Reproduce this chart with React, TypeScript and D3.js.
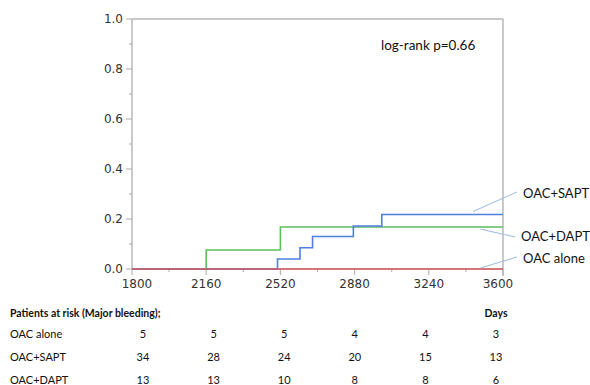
import React from "react";
import * as d3 from "d3";

// Cumulative incidence of major bleeding
const xTicks = [1800, 2160, 2520, 2880, 3240, 3600];
const yTicks = [0, 0.2, 0.4, 0.6, 0.8, 1.0];

const saptDays = [1800, 2506, 2615, 2676, 2874, 3012, 3600];
const saptRisk = [0, 0.04, 0.085, 0.13, 0.172, 0.218, 0.218];
const daptDays = [1800, 2160, 2520, 3600];
const daptRisk = [0, 0.076, 0.168, 0.168];
const aloneDays = [1800, 3600];
const aloneRisk = [0, 0];

const groups = ["OAC alone", "OAC+SAPT", "OAC+DAPT"];
const atRiskAlone = [5, 5, 5, 4, 4, 3];
const atRiskSapt = [34, 28, 24, 20, 15, 13];
const atRiskDapt = [13, 13, 10, 8, 8, 6];

const pValue = "log-rank p=0.66";

const W = 590;
const H = 385;
const margin = { left: 132, right: 87, top: 19, bottom: 116 };
const grey = "#b7b7b7";
const tickFont = "'DejaVu Sans', Verdana, sans-serif";
const textFont = "Lato, 'Open Sans', sans-serif";

export default function App() {
  const x = d3.scaleLinear().domain([1800, 3600]).range([margin.left, W - margin.right]);
  const y = d3.scaleLinear().domain([0, 1]).range([H - margin.bottom, margin.top]);

  const step = d3
    .line<[number, number]>()
    .x((d) => x(d[0]))
    .y((d) => y(d[1]))
    .curve(d3.curveStepAfter);

  // red drawn last so it stays visible along the baseline
  const curves = [
    { name: "OAC+DAPT", days: daptDays, risk: daptRisk, color: "#5cbf5e" },
    { name: "OAC+SAPT", days: saptDays, risk: saptRisk, color: "#4f7fe0" },
    { name: "OAC alone", days: aloneDays, risk: aloneRisk, color: "#d9575a" },
  ];

  // label placement on the right, leaders pointing at the curve ends
  const labels = [
    { name: "OAC+SAPT", from: [x(3455), y(0.218) - 3], to: [517, 192], ty: 193 },
    { name: "OAC+DAPT", from: [x(3490), y(0.168) + 2], to: [515, 237], ty: 236 },
    { name: "OAC alone", from: [x(3490), y(0) - 1], to: [517, 257], ty: 258 },
  ];

  const minorX = d3.range(1980, 3600, 360);
  const minorY = d3.range(0.1, 1, 0.2);

  const col = d3.scalePoint<number>().domain(xTicks).range([143, 496]);
  const rows = [atRiskAlone, atRiskSapt, atRiskDapt];
  const rowY = [334, 357, 380];

  return (
    <svg
      width={W}
      height={H}
      style={{ position: "absolute", left: 0, top: 0, background: "#fff" }}
    >
      {/* frame */}
      <line x1={x(1800)} x2={x(3600)} y1={y(1)} y2={y(1)} stroke={grey} strokeWidth={1.5} />
      <line x1={x(1800)} x2={x(1800)} y1={y(1)} y2={y(0)} stroke={grey} strokeWidth={1.5} />
      <line x1={x(3600)} x2={x(3600)} y1={y(1)} y2={y(0) + 7} stroke={grey} strokeWidth={1.5} />
      <line x1={x(1800)} x2={x(3600)} y1={y(0)} y2={y(0)} stroke={grey} strokeWidth={1.5} />

      {/* y axis */}
      {yTicks.map((t) => (
        <g key={t}>
          <line x1={x(1800) - 6} x2={x(1800)} y1={y(t)} y2={y(t)} stroke={grey} strokeWidth={1.2} />
          <text
            x={x(1800) - 9}
            y={y(t)}
            dy="0.35em"
            textAnchor="end"
            fontFamily={tickFont}
            fontSize={12}
            fill="#333"
          >
            {t.toFixed(1)}
          </text>
        </g>
      ))}
      {minorY.map((t) => (
        <line key={t} x1={x(1800) - 3} x2={x(1800)} y1={y(t)} y2={y(t)} stroke={grey} strokeWidth={1.2} />
      ))}

      {/* x axis */}
      {xTicks.map((t) => (
        <g key={t}>
          <line x1={x(t)} x2={x(t)} y1={y(0)} y2={y(0) + 6} stroke={grey} strokeWidth={1.2} />
          <text
            x={x(t) + (t === 1800 ? 5 : t === 3600 ? -5 : 0)}
            y={y(0) + 19}
            textAnchor="middle"
            fontFamily={tickFont}
            fontSize={12}
            fill="#333"
          >
            {t}
          </text>
        </g>
      ))}
      {minorX.map((t) => (
        <line key={t} x1={x(t)} x2={x(t)} y1={y(0)} y2={y(0) + 3} stroke={grey} strokeWidth={1.2} />
      ))}

      {/* curves */}
      {curves.map((c) => (
        <path
          key={c.name}
          d={step(c.days.map((d, i) => [d, c.risk[i]] as [number, number])) || ""}
          fill="none"
          stroke={c.color}
          strokeWidth={1.6}
        />
      ))}

      <text x={381} y={45} dy="0.35em" fontFamily={textFont} fontSize={13.5} fill="#111">
        {pValue}
      </text>

      {/* right-hand labels */}
      {labels.map((l) => (
        <g key={l.name}>
          <line x1={l.from[0]} y1={l.from[1]} x2={l.to[0]} y2={l.to[1]} stroke="#9db7e3" strokeWidth={1} />
          <text x={l.to[0] + 6} y={l.ty} dy="0.35em" fontFamily={textFont} fontSize={13} fill="#111">
            {l.name}
          </text>
        </g>
      ))}

      {/* numbers at risk */}
      <text x={10} y={313} dy="0.35em" fontFamily={textFont} fontSize={10.5} fontWeight="bold" fill="#111">
        Patients at risk (Major bleeding);
      </text>
      <text
        x={col(3600)}
        y={313}
        dy="0.35em"
        textAnchor="middle"
        fontFamily={textFont}
        fontSize={10.5}
        fontWeight="bold"
        fill="#111"
      >
        Days
      </text>
      {rows.map((r, i) => (
        <g key={groups[i]}>
          <text x={10} y={rowY[i]} dy="0.35em" fontFamily={textFont} fontSize={11} fill="#111">
            {groups[i]}
          </text>
          {r.map((v, j) => (
            <text
              key={j}
              x={col(xTicks[j])}
              y={rowY[i]}
              dy="0.35em"
              textAnchor="middle"
              fontFamily={textFont}
              fontSize={11}
              fill="#111"
            >
              {v}
            </text>
          ))}
        </g>
      ))}
    </svg>
  );
}
